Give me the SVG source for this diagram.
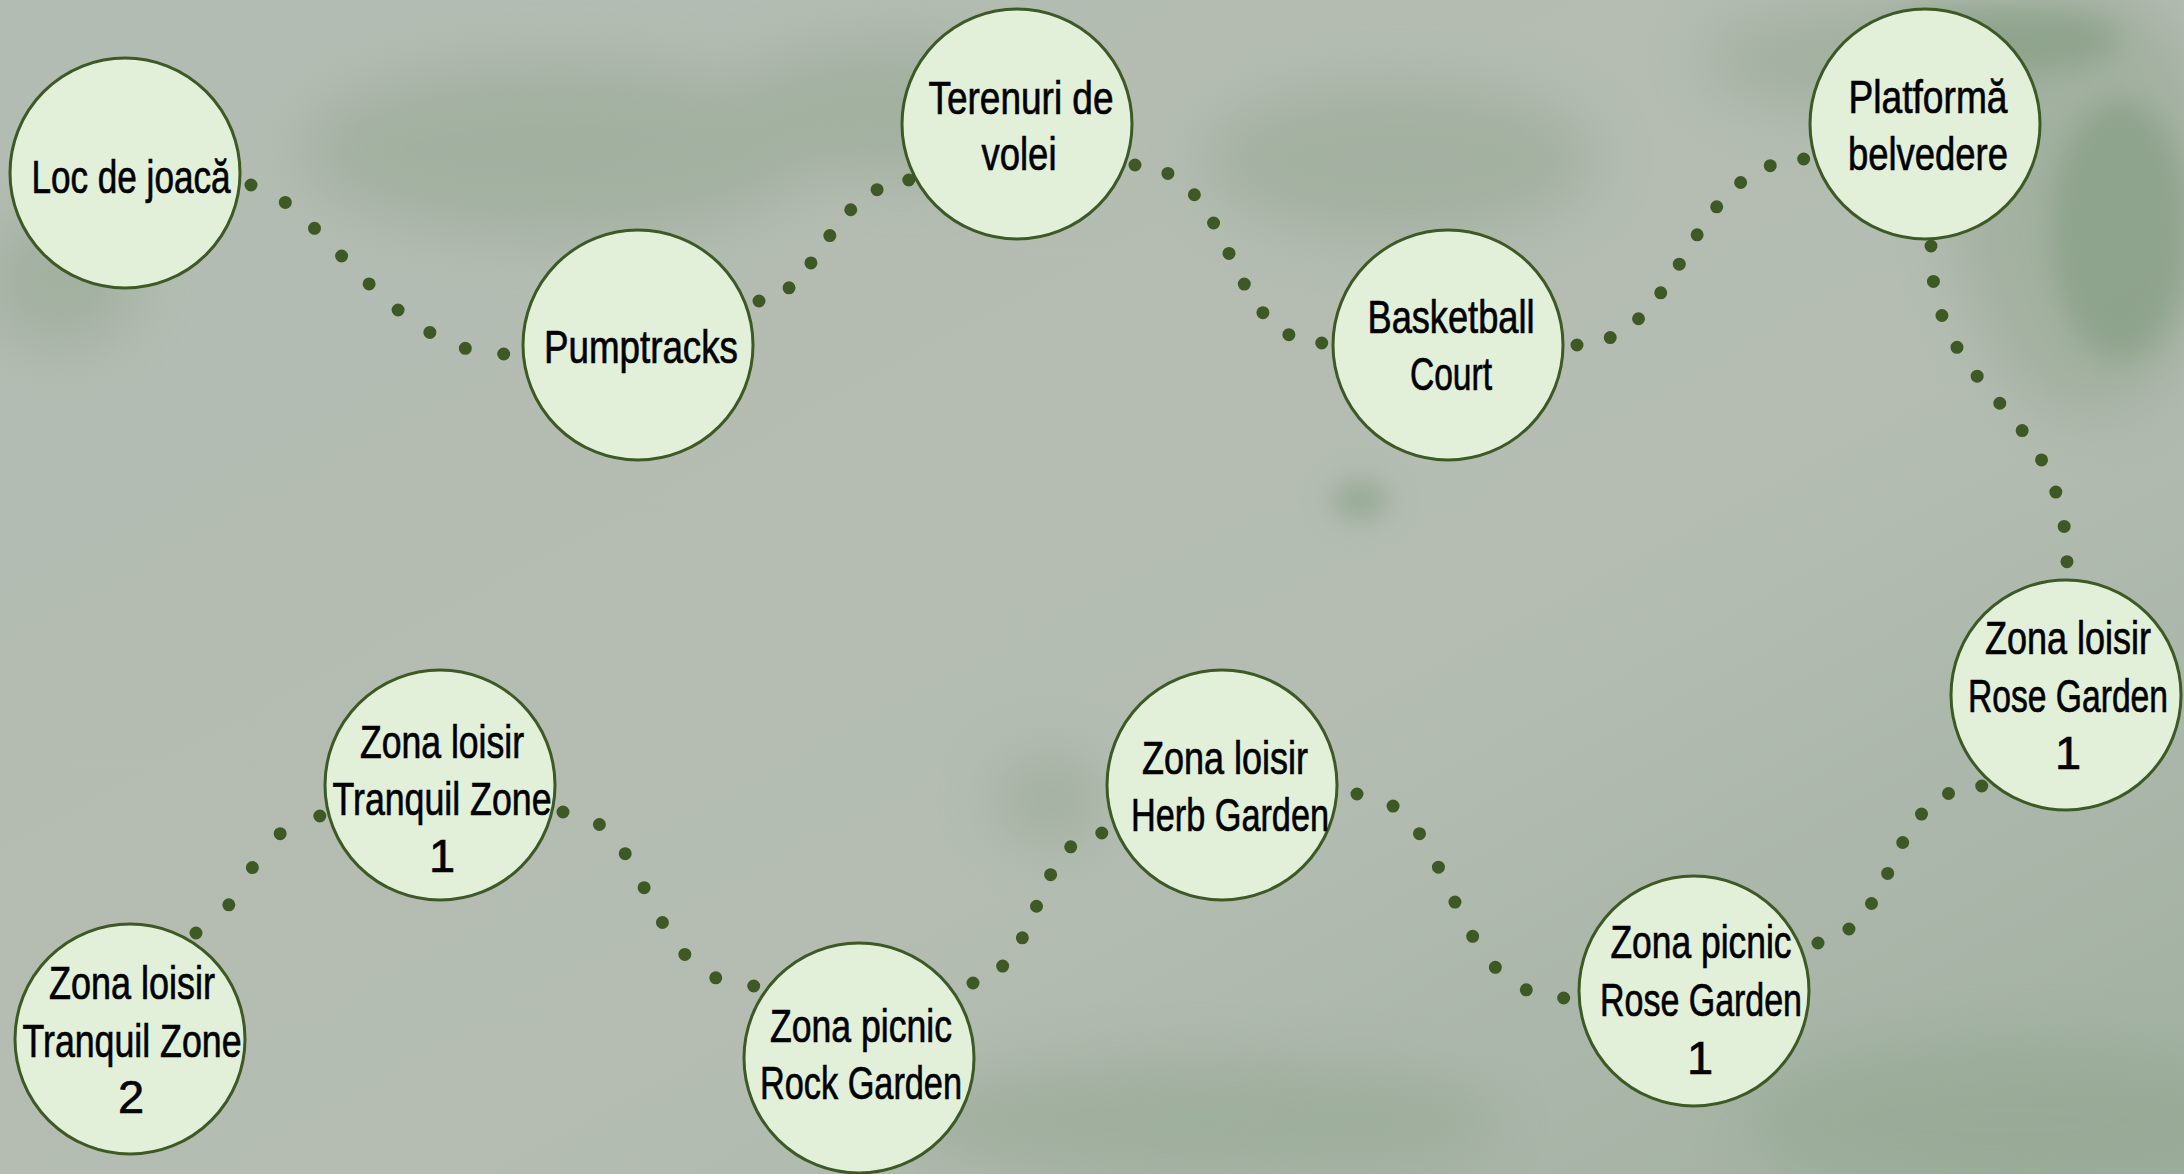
<svg xmlns="http://www.w3.org/2000/svg" width="2184" height="1174" viewBox="0 0 2184 1174">
<defs>
<filter id="blur" x="-50%" y="-50%" width="200%" height="200%"><feGaussianBlur stdDeviation="30"/></filter>
<filter id="blur2" x="-50%" y="-50%" width="200%" height="200%"><feGaussianBlur stdDeviation="14"/></filter>
<linearGradient id="bg" x1="0" y1="0" x2="1" y2="1">
<stop offset="0" stop-color="#b3bcb2"/>
<stop offset="0.6" stop-color="#b5bdb3"/>
<stop offset="1" stop-color="#a0b0a0"/>
</linearGradient>
<style>
.node circle{fill:#e2efd9;stroke:#3d5a24;stroke-width:3}
.node text{font-family:"Liberation Sans",Arial,sans-serif;font-size:47px;fill:#000;stroke:#000;stroke-width:0.7;text-anchor:middle}
.conn path{fill:none;stroke:#3d5a24;stroke-width:13;stroke-linecap:round;stroke-dasharray:0 0.999}
</style>
</defs>
<rect width="2184" height="1174" fill="url(#bg)"/>
<g filter="url(#blur)" fill="#8ea38b" opacity="0.45">
<ellipse cx="560" cy="150" rx="260" ry="90"/>
<ellipse cx="900" cy="110" rx="180" ry="70"/>
<ellipse cx="60" cy="280" rx="80" ry="70"/>
<ellipse cx="2090" cy="200" rx="140" ry="220"/>
<ellipse cx="1900" cy="60" rx="200" ry="60"/>
<ellipse cx="1400" cy="160" rx="200" ry="80"/>
<ellipse cx="2000" cy="1120" rx="260" ry="80"/>
<ellipse cx="1200" cy="1120" rx="300" ry="60"/>
<ellipse cx="1050" cy="800" rx="60" ry="50"/>
</g>
<g filter="url(#blur2)" fill="#7f9a7c" opacity="0.55">
<ellipse cx="2120" cy="230" rx="70" ry="130"/>
<ellipse cx="2000" cy="40" rx="120" ry="35"/>
<ellipse cx="1360" cy="500" rx="30" ry="20"/>
</g>
<g id="connectors" class="conn">
<path pathLength="8" d="M251,185 C320,200 390,355 504,354"/>
<path pathLength="6" d="M759,301 C820,295 825,190 909,180"/>
<path pathLength="8" d="M1135,165 C1240,170 1220,340 1322,343"/>
<path pathLength="9" d="M1577,345 C1690,340 1680,165 1804,159"/>
<path pathLength="10" d="M1931,246 C1930,400 2065,400 2067,562"/>
<path pathLength="4" d="M196,933 C245,915 250,825 320,816"/>
<path pathLength="7" d="M563,812 C655,815 640,985 754,986"/>
<path pathLength="6" d="M973,983 C1045,965 1030,840 1102,833"/>
<path pathLength="8" d="M1357,794 C1460,800 1440,995 1564,998"/>
<path pathLength="7" d="M1818,943 C1905,925 1880,790 1982,786"/>
</g>
<g id="n1" class="node"><circle cx="125" cy="173" r="115"/>
<text x="131" y="193" textLength="199" lengthAdjust="spacingAndGlyphs">Loc de joacă</text></g>
<g id="n2" class="node"><circle cx="638" cy="345" r="115"/>
<text x="641" y="363" textLength="194" lengthAdjust="spacingAndGlyphs">Pumptracks</text></g>
<g id="n3" class="node"><circle cx="1017" cy="124" r="115"/>
<text x="1021" y="114" textLength="185" lengthAdjust="spacingAndGlyphs">Terenuri de</text>
<text x="1019" y="170" textLength="75" lengthAdjust="spacingAndGlyphs">volei</text></g>
<g id="n4" class="node"><circle cx="1448" cy="345" r="115"/>
<text x="1451" y="333" textLength="167" lengthAdjust="spacingAndGlyphs">Basketball</text>
<text x="1451" y="390" textLength="82" lengthAdjust="spacingAndGlyphs">Court</text></g>
<g id="n5" class="node"><circle cx="1925" cy="124" r="115"/>
<text x="1928" y="113" textLength="159" lengthAdjust="spacingAndGlyphs">Platformă</text>
<text x="1928" y="170" textLength="160" lengthAdjust="spacingAndGlyphs">belvedere</text></g>
<g id="n6" class="node"><circle cx="2066" cy="695" r="115"/>
<text x="2068" y="654" textLength="166" lengthAdjust="spacingAndGlyphs">Zona loisir</text>
<text x="2068" y="712" textLength="200" lengthAdjust="spacingAndGlyphs">Rose Garden</text>
<text x="2068" y="769">1</text></g>
<g id="n7" class="node"><circle cx="1694" cy="991" r="115"/>
<text x="1701" y="958" textLength="181" lengthAdjust="spacingAndGlyphs">Zona picnic</text>
<text x="1701" y="1016" textLength="202" lengthAdjust="spacingAndGlyphs">Rose Garden</text>
<text x="1700" y="1074">1</text></g>
<g id="n8" class="node"><circle cx="1222" cy="785" r="115"/>
<text x="1225" y="774" textLength="166" lengthAdjust="spacingAndGlyphs">Zona loisir</text>
<text x="1230" y="831" textLength="198" lengthAdjust="spacingAndGlyphs">Herb Garden</text></g>
<g id="n9" class="node"><circle cx="859" cy="1058" r="115"/>
<text x="861" y="1042" textLength="182" lengthAdjust="spacingAndGlyphs">Zona picnic</text>
<text x="861" y="1099" textLength="202" lengthAdjust="spacingAndGlyphs">Rock Garden</text></g>
<g id="n10" class="node"><circle cx="440" cy="785" r="115"/>
<text x="442" y="758" textLength="164" lengthAdjust="spacingAndGlyphs">Zona loisir</text>
<text x="442" y="815" textLength="219" lengthAdjust="spacingAndGlyphs">Tranquil Zone</text>
<text x="442" y="872">1</text></g>
<g id="n11" class="node"><circle cx="130" cy="1039" r="115"/>
<text x="132" y="999" textLength="166" lengthAdjust="spacingAndGlyphs">Zona loisir</text>
<text x="132" y="1057" textLength="219" lengthAdjust="spacingAndGlyphs">Tranquil Zone</text>
<text x="131" y="1113">2</text></g>
</svg>
